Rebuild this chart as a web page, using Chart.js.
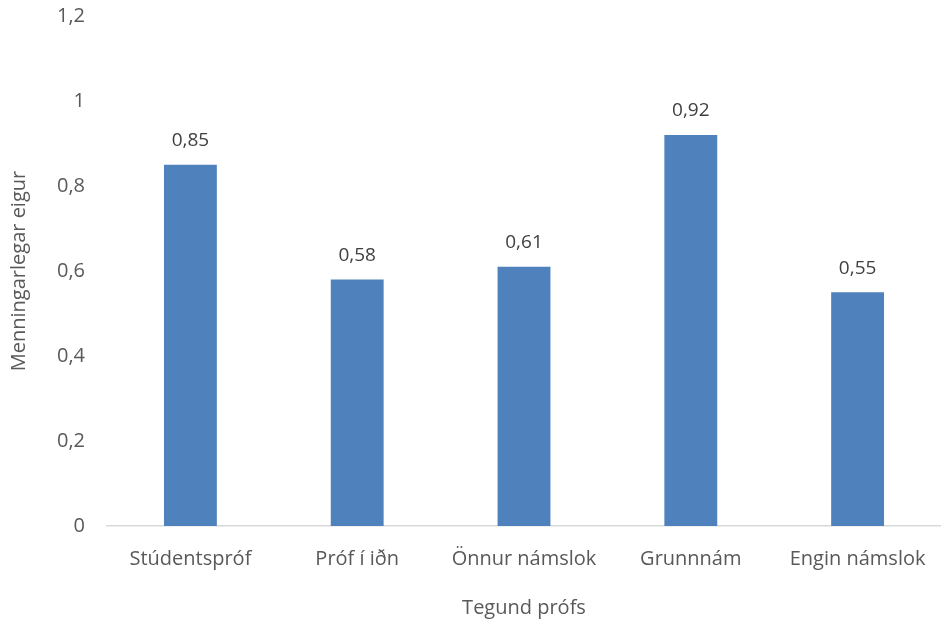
<!DOCTYPE html>
<html>
<head>
<meta charset="utf-8">
<script src="https://cdn.jsdelivr.net/npm/chart.js@4"></script>
<style>
  html, body { margin:0; padding:0; background:#fff; }
  #wrap { width:941px; height:624px; }
</style>
</head>
<body>
<div id="wrap"><canvas id="c" width="941" height="624"></canvas></div>
<script>
const categories = ['Stúdentspróf', 'Próf í iðn', 'Önnur námslok', 'Grunnnám', 'Engin námslok'];
const values = [0.85, 0.58, 0.61, 0.92, 0.55];
const yTicks = [0, 0.2, 0.4, 0.6, 0.8, 1, 1.2];
const yTitle = 'Menningarlegar eigur';
const xTitle = 'Tegund prófs';

const FONT = 'Open Sans';
const comma = v => String(+(+v).toFixed(2)).replace('.', ',');

// value labels above each bar
const barLabels = {
  id: 'barLabels',
  afterDatasetsDraw(chart){
    const ctx = chart.ctx;
    const meta = chart.getDatasetMeta(0);
    ctx.save();
    ctx.font = '19px "' + FONT + '"';
    ctx.fillStyle = '#404040';
    ctx.textAlign = 'center';
    ctx.textBaseline = 'middle';
    meta.data.forEach((bar, i) => {
      ctx.fillText(comma(values[i]), bar.x, bar.y - 24);
    });
    ctx.restore();
  }
};

new Chart(document.getElementById('c'), {
  type: 'bar',
  data: {
    labels: categories,
    datasets: [{
      data: values,
      backgroundColor: '#4F81BD',
      borderWidth: 0,
      categoryPercentage: 1,
      barPercentage: 0.317
    }]
  },
  options: {
    responsive: false,
    animation: false,
    layout: { padding: 0 },
    plugins: { legend: { display: false }, tooltip: { enabled: false } },
    scales: {
      x: {
        grid: { display: false },
        border: { color: '#d9d9d9', width: 1.5 },
        ticks: { color: '#595959', font: { family: FONT, size: 20 }, padding: 13, maxRotation: 0 },
        title: { display: true, text: xTitle, color: '#595959', font: { family: FONT, size: 20 }, padding: { bottom: 4 } },
        afterFit: s => { s.height = 98; }
      },
      y: {
        min: 0, max: 1.2,
        afterBuildTicks: s => { s.ticks = yTicks.map(v => ({ value: v })); },
        grid: { display: false },
        border: { display: false },
        ticks: { color: '#595959', font: { family: FONT, size: 20 }, padding: 14, callback: v => comma(v) },
        title: { display: true, text: yTitle, color: '#595959', font: { family: FONT, size: 20 }, padding: { top: 7 } },
        afterFit: s => { s.width = 107; s.paddingTop = 16; }
      }
    }
  },
  plugins: [barLabels]
});
</script>
</body>
</html>
